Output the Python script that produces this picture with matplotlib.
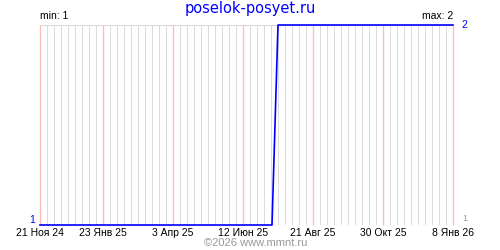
import matplotlib
matplotlib.use('Agg')
import matplotlib.pyplot as plt
import pandas as pd

# данные графика
dates = pd.to_datetime(['2024-11-21', '2025-07-11', '2025-07-17', '2026-01-08'])
values = [1, 1, 2, 2]

tick_dates = pd.to_datetime(['2024-11-21', '2025-01-23', '2025-04-03', '2025-06-12',
                             '2025-08-21', '2025-10-30', '2026-01-08'])
tick_labels = ['21 Ноя 24', '23 Янв 25', '3 Апр 25', '12 Июн 25',
               '21 Авг 25', '30 Окт 25', '8 Янв 26']
week_lines = pd.date_range('2024-11-21', '2026-01-08', freq='7D')

fig = plt.figure(figsize=(5, 2.5), dpi=100)
ax = fig.add_axes([0.08, 0.1, 0.826, 0.8])

# сетка: недели серым, метки розовым
ax.vlines([d for d in week_lines if d not in tick_dates], 1, 2,
          color='#dcdcdc', lw=0.72, zorder=1, antialiased=False)
ax.vlines(tick_dates, 1, 2, color='#ffbebe', lw=1.0, zorder=2, clip_on=False)
ax.axhline(2, color='#d8d8d8', lw=0.72, zorder=2, antialiased=False)
ax.axhline(1, color='#d8d8d8', lw=0.72, zorder=2, antialiased=False)

ax.plot(dates, values, color='#0000ff', lw=1.2, zorder=5, clip_on=False)

ax.set_xlim(tick_dates[0], tick_dates[-1])
ax.set_ylim(1, 2)
ax.set_xticks(tick_dates)
ax.set_xticklabels(tick_labels, fontsize=7.5, family='Liberation Sans')
ax.tick_params(axis='x', length=0, pad=2)
ax.set_yticks([])
for s in ax.spines.values():
    s.set_visible(False)

# подписи
fig.text(0.5, 0.966, 'poselok-posyet.ru', color='#0000ff', fontsize=10.5,
         ha='center', va='center')
ax.text(0.0, 1.02, 'min: 1', transform=ax.transAxes, fontsize=7.5, ha='left', va='bottom',
        family='Liberation Sans')
ax.text(1.0, 1.02, 'max: 2', transform=ax.transAxes, fontsize=7.5, ha='right', va='bottom',
        family='Liberation Sans')
ax.text(1.02, 1.0, '2', transform=ax.transAxes, color='#0000ff', fontsize=7.5,
        ha='left', va='center', family='Liberation Sans')
ax.text(-0.012, 0.0, '1', transform=ax.transAxes, color='#0000ff', fontsize=7.5,
        ha='right', va='bottom', family='Liberation Sans')
ax.text(1.022, 0.01, '1', transform=ax.transAxes, color='#999999', fontsize=6.5,
        ha='left', va='bottom', family='Liberation Sans')
fig.text(0.512, 0.028, '©2026 www.mmnt.ru', color='#999999', fontsize=8,
         ha='center', va='center', family='Liberation Sans')

plt.savefig('out.png', dpi=100)
plt.close()
